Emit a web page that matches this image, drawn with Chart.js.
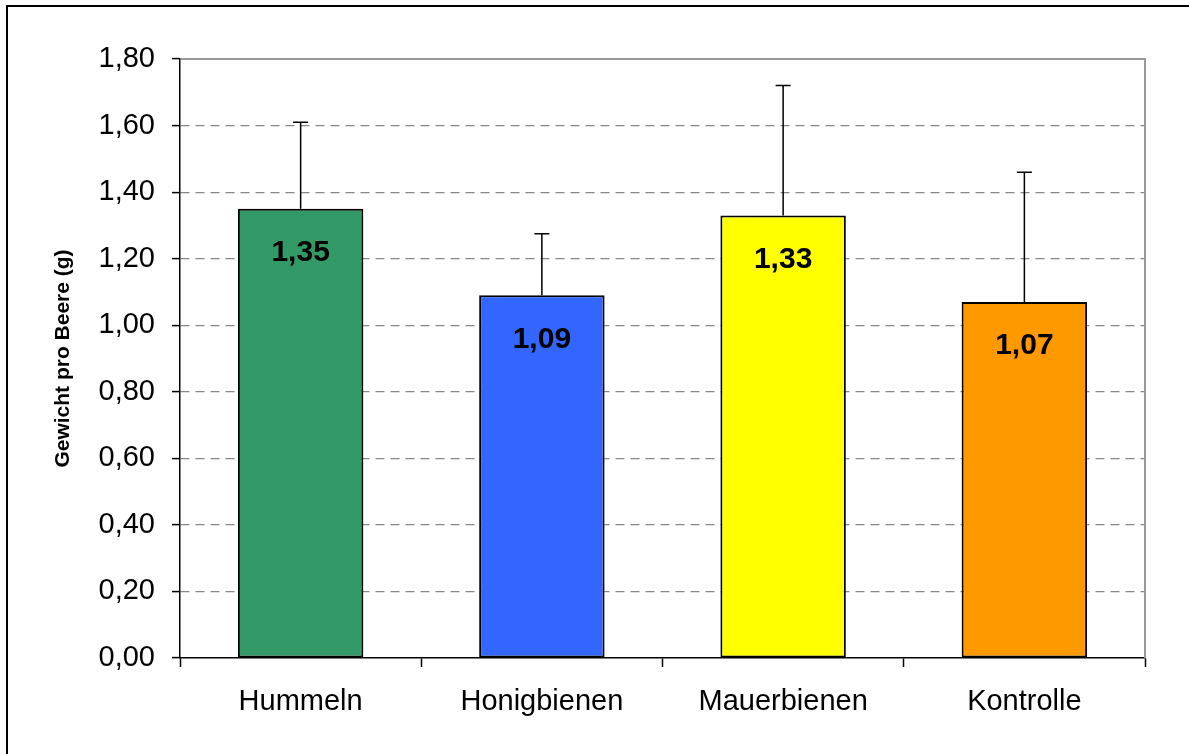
<!DOCTYPE html>
<html>
<head>
<meta charset="utf-8">
<script src="https://cdn.jsdelivr.net/npm/chart.js@4"></script>
<style>
  html, body { margin: 0; padding: 0; background: #fff; }
  #wrap { width: 1189px; height: 754px; }
</style>
</head>
<body>
<div id="wrap"><canvas id="chartOne" width="1189" height="754"></canvas></div>
<script>
// data
const categories = ['Hummeln', 'Honigbienen', 'Mauerbienen', 'Kontrolle'];
const weights = [1.35, 1.09, 1.33, 1.07];
const errors = [0.26, 0.185, 0.39, 0.39];
const yTicks = [0, 0.2, 0.4, 0.6, 0.8, 1.0, 1.2, 1.4, 1.6, 1.8];

const FONT = 'Liberation Sans, Arial, sans-serif';

function fmt(v) {
    return v.toFixed(2).replace('.', ',');
}

// outer frame + plot area border (top/right grey)
const framePlugin = {
    id: 'frame',
    beforeDraw(chart) {
        const ctx = chart.ctx;
        ctx.save();
        ctx.strokeStyle = '#000';
        ctx.lineWidth = 2;
        ctx.beginPath();
        ctx.moveTo(7, 754);
        ctx.lineTo(7, 6);
        ctx.lineTo(1189, 6);
        ctx.stroke();
        ctx.restore();
    },
    afterDraw(chart) {
        const a = chart.chartArea;
        const ctx = chart.ctx;
        ctx.save();
        ctx.strokeStyle = '#999';
        ctx.lineWidth = 2;
        ctx.beginPath();
        ctx.moveTo(a.left + 1, a.top);
        ctx.lineTo(a.right, a.top);
        ctx.lineTo(a.right, a.bottom);
        ctx.stroke();
        ctx.restore();
    }
};

// plus-only error bars and value labels inside bars
const errorBarPlugin = {
    id: 'errorBars',
    afterDatasetsDraw(chart) {
        const ctx = chart.ctx;
        const y = chart.scales.y;
        const meta = chart.getDatasetMeta(0);
        ctx.save();
        meta.data.forEach((bar, i) => {
            const top = y.getPixelForValue(weights[i] + errors[i]);
            const base = y.getPixelForValue(weights[i]);
            ctx.strokeStyle = '#000';
            ctx.lineWidth = 1.5;
            ctx.beginPath();
            ctx.moveTo(bar.x, base);
            ctx.lineTo(bar.x, top);
            ctx.moveTo(bar.x - 7.5, top);
            ctx.lineTo(bar.x + 7.5, top);
            ctx.stroke();

            ctx.fillStyle = '#000';
            ctx.font = 'bold 30px ' + FONT;
            ctx.textAlign = 'center';
            ctx.textBaseline = 'middle';
            ctx.fillText(fmt(weights[i]), bar.x, base + 44);
        });
        ctx.restore();
    }
};

const ctx = document.getElementById('chartOne').getContext('2d');

const barChart = new Chart(ctx, {
    type: 'bar',
    data: {
        labels: categories,
        datasets: [{
            label: 'Gewicht pro Beere (g)',
            data: weights,
            backgroundColor: ['#339966', '#3366FF', '#FFFF00', '#FF9900'],
            borderColor: '#000',
            borderWidth: 2,
            borderSkipped: false,
            barPercentage: 0.52,
            categoryPercentage: 1.0
        }]
    },
    options: {
        responsive: false,
        animation: false,
        layout: {
            padding: { top: 59, right: 44, bottom: 0, left: 0 }
        },
        plugins: {
            legend: { display: false },
            tooltip: { enabled: false }
        },
        scales: {
            x: {
                afterFit(scale) { scale.height = 96; },
                grid: {
                    display: true,
                    drawOnChartArea: false,
                    offset: true,
                    tickLength: 9,
                    tickColor: '#000',
                    tickWidth: 1.5
                },
                border: { display: true, color: '#000', width: 1.5 },
                ticks: {
                    color: '#000',
                    padding: 18,
                    font: { family: FONT, size: 29 }
                }
            },
            y: {
                min: 0,
                max: 1.8,
                afterFit(scale) { scale.width = 180; },
                afterBuildTicks(scale) {
                    scale.ticks = yTicks.map(v => ({ value: v }));
                },
                title: {
                    display: true,
                    text: 'Gewicht pro Beere (g)',
                    color: '#000',
                    padding: { top: 51, bottom: 0 },
                    font: { family: FONT, size: 21, weight: 'bold' }
                },
                grid: {
                    color: (c) => (c.index === 0 || c.index === yTicks.length - 1) ? 'rgba(0,0,0,0)' : '#888',
                    lineWidth: 1.2,
                    tickLength: 8,
                    tickColor: '#000',
                    tickWidth: 1.5
                },
                border: { display: true, color: '#000', width: 1.5, dash: [9, 6] },
                ticks: {
                    color: '#000',
                    padding: 17,
                    font: { family: FONT, size: 29 },
                    callback: (v) => fmt(v)
                }
            }
        }
    },
    plugins: [framePlugin, errorBarPlugin]
});
</script>
</body>
</html>
